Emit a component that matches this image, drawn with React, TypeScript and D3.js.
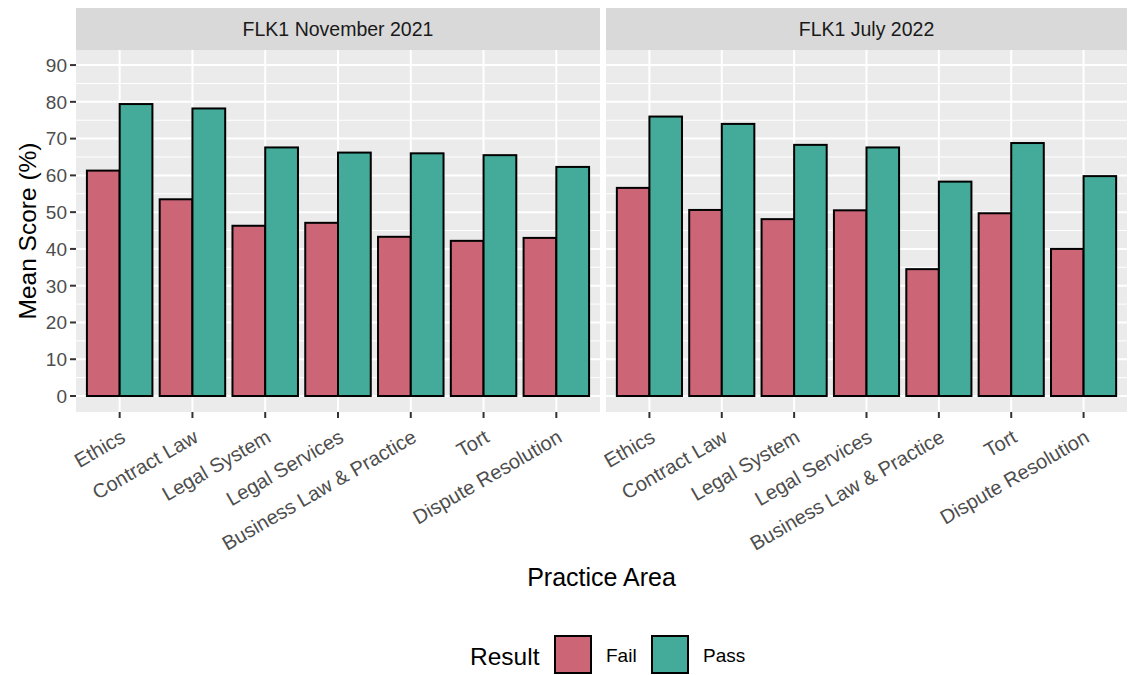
import React from 'react';
import * as d3 from 'd3';

// categories shown on the x axis of both facets
const areas = [
  'Ethics',
  'Contract Law',
  'Legal System',
  'Legal Services',
  'Business Law & Practice',
  'Tort',
  'Dispute Resolution',
];

const sittings = ['FLK1 November 2021', 'FLK1 July 2022'];
const results = ['Fail', 'Pass'];

// mean scores (%) per sitting, in the order of `areas`
const nov2021Fail = [61.3, 53.5, 46.3, 47.1, 43.3, 42.2, 43.0];
const nov2021Pass = [79.4, 78.2, 67.6, 66.2, 66.0, 65.5, 62.3];
const jul2022Fail = [56.6, 50.6, 48.1, 50.5, 34.5, 49.7, 40.0];
const jul2022Pass = [76.0, 74.0, 68.3, 67.6, 58.3, 68.8, 59.8];

const yTicks = [0, 10, 20, 30, 40, 50, 60, 70, 80, 90];
const yMinor = [5, 15, 25, 35, 45, 55, 65, 75, 85];

const colors: Record<string, string> = { Fail: '#CC6677', Pass: '#44AA99' };
const font = '"Liberation Sans", Arial, Helvetica, sans-serif';

const W = 1134;
const H = 675;
const panelTop = 50;
const panelBottom = 412;
const stripTop = 8;
const panels = [
  { x0: 76, x1: 600 },
  { x0: 606, x1: 1127 },
];

const facetData = [
  { Fail: nov2021Fail, Pass: nov2021Pass },
  { Fail: jul2022Fail, Pass: jul2022Pass },
];

const y = d3.scaleLinear().domain([-4.35, 94.1]).range([panelBottom, panelTop]);

const Panel = ({ idx }: { idx: number }) => {
  const { x0, x1 } = panels[idx];
  // ggplot-like discrete expansion: 0.6 units on each side
  const x = d3.scalePoint().domain(areas).range([x0, x1]).padding(0.6);
  const step = x.step();
  const inner = d3.scaleBand().domain(results).range([-step * 0.45, step * 0.45]);
  const vals = facetData[idx];
  return (
    <g>
      <rect x={x0} y={stripTop} width={x1 - x0} height={panelTop - stripTop} fill="#D9D9D9" />
      <text x={(x0 + x1) / 2} y={(stripTop + panelTop) / 2} dy="0.36em" textAnchor="middle"
        fontSize={19.5} fill="#1A1A1A">{sittings[idx]}</text>
      <rect x={x0} y={panelTop} width={x1 - x0} height={panelBottom - panelTop} fill="#EBEBEB" />
      {yMinor.map(t => (
        <line key={'m' + t} x1={x0} x2={x1} y1={y(t)} y2={y(t)} stroke="#fff" strokeWidth={1} />
      ))}
      {yTicks.map(t => (
        <line key={'g' + t} x1={x0} x2={x1} y1={y(t)} y2={y(t)} stroke="#fff" strokeWidth={2} />
      ))}
      {areas.map(a => (
        <line key={'v' + a} x1={x(a)} x2={x(a)} y1={panelTop} y2={panelBottom} stroke="#fff" strokeWidth={2} />
      ))}
      {areas.map((a, i) =>
        results.map(r => {
          const v = (vals as any)[r][i];
          return (
            <rect key={a + r} x={(x(a) || 0) + (inner(r) || 0)} width={inner.bandwidth()}
              y={y(v)} height={y(0) - y(v)} fill={colors[r]} stroke="#000" strokeWidth={2} />
          );
        })
      )}
      {areas.map(a => (
        <g key={'t' + a}>
          <line x1={x(a)} x2={x(a)} y1={panelBottom} y2={panelBottom + 6} stroke="#333" strokeWidth={2} />
          <text transform={`translate(${(x(a) || 0) + 7},${panelBottom + 29}) rotate(-30)`} textAnchor="end"
            fontSize={20} fill="#4D4D4D">{a}</text>
        </g>
      ))}
    </g>
  );
};

const App = () => {
  const left = panels[0].x0;
  return (
    <div style={{ position: 'fixed', left: 0, top: 0 }}>
      <svg width={W} height={H} style={{ display: 'block', fontFamily: font }}>
        <rect width={W} height={H} fill="#fff" />
        <Panel idx={0} />
        <Panel idx={1} />
        {yTicks.map(t => (
          <g key={t}>
            <line x1={left - 6} x2={left} y1={y(t)} y2={y(t)} stroke="#333" strokeWidth={2} />
            <text x={left - 9} y={y(t)} dy="0.36em" textAnchor="end" fontSize={19} fill="#4D4D4D">{t}</text>
          </g>
        ))}
        <text transform={`translate(27,${(panelTop + panelBottom) / 2}) rotate(-90)`} textAnchor="middle"
          dy="0.36em" fontSize={24.5} fill="#000">Mean Score (%)</text>
        <text x={(panels[0].x0 + panels[1].x1) / 2} y={586} textAnchor="middle" fontSize={25} fill="#000">
          Practice Area
        </text>
        <g>
          <text x={470} y={665} fontSize={24.5} fill="#000">Result</text>
          {results.map((r, i) => (
            <g key={r} transform={`translate(${555 + i * 97},636)`}>
              <rect width={36} height={37} fill={colors[r]} stroke="#000" strokeWidth={2} />
              <text x={51} y={26} fontSize={19} fill="#000">{r}</text>
            </g>
          ))}
        </g>
      </svg>
    </div>
  );
};

export default App;
